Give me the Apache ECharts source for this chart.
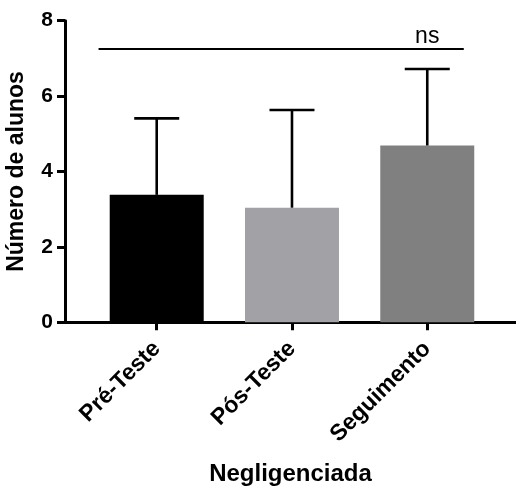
<!DOCTYPE html>
<html><head><meta charset="utf-8">
<script src="https://cdn.jsdelivr.net/npm/echarts@6/dist/echarts.min.js"></script>
<style>html,body{margin:0;padding:0;background:#fff}#c{width:516px;height:487px}</style>
</head><body><div id="c"></div>
<script>
const categories = ['Pré-Teste', 'Pós-Teste', 'Seguimento'];
const means = [3.38, 3.04, 4.69];
const errors = [2.03, 2.59, 2.03];
const barColors = ['#000000', '#a2a1a5', '#808080'];
const yTicks = [0, 2, 4, 6, 8];
const sigLine = { from: 0.57, to: 3.27, y: 7.25, labelAt: 3, text: 'ns' };

const FONT = 'Liberation Sans, Arial, Helvetica, sans-serif';
const positions = categories.map((c, i) => i + 1);

const chart = echarts.init(document.getElementById('c'), null, { renderer: 'canvas' });
chart.setOption({
  animation: false,
  backgroundColor: '#fff',
  grid: { left: 65, right: 0, top: 20.7, bottom: 164.7, containLabel: false, outerBoundsMode: 'none' },
  xAxis: {
    type: 'value', min: 0.322, max: 3.656,
    name: 'Negligenciada', nameLocation: 'middle', nameGap: 140,
    nameTextStyle: { fontFamily: FONT, fontWeight: 'bold', fontSize: 24, color: '#000' },
    axisLine: { show: true, onZero: false, lineStyle: { color: '#000', width: 3 } },
    axisTick: { show: true, customValues: positions, length: 8, lineStyle: { color: '#000', width: 3 } },
    axisLabel: {
      customValues: positions, rotate: 45, margin: 23,
      fontFamily: FONT, fontWeight: 'bold', fontSize: 23, color: '#000',
      formatter: v => categories[Math.round(v) - 1] || ''
    },
    splitLine: { show: false }
  },
  yAxis: {
    type: 'value', min: yTicks[0], max: yTicks[yTicks.length - 1], interval: 2,
    name: 'Número de alunos', nameLocation: 'middle', nameGap: 37, nameRotate: 90,
    nameTextStyle: { fontFamily: FONT, fontWeight: 'bold', fontSize: 23, color: '#000' },
    axisLine: { show: true, lineStyle: { color: '#000', width: 3 } },
    axisTick: { show: true, length: 8, lineStyle: { color: '#000', width: 3 } },
    axisLabel: { margin: 12, fontFamily: FONT, fontWeight: 'bold', fontSize: 21, color: '#000' },
    splitLine: { show: false }
  },
  series: [
    {
      type: 'bar', barWidth: 94,
      data: means.map((m, i) => ({ value: [positions[i], m], itemStyle: { color: barColors[i] } }))
    },
    {
      type: 'custom', z: 5,
      data: means.map((m, i) => [positions[i], m, errors[i]]),
      renderItem: (params, api) => {
        const x = api.value(0), m = api.value(1), e = api.value(2);
        const p0 = api.coord([x, m]);
        const p1 = api.coord([x, m + e]);
        const half = 22.5;
        return {
          type: 'group',
          children: [
            { type: 'line', shape: { x1: p0[0], y1: p0[1], x2: p1[0], y2: p1[1] }, style: { stroke: '#000', lineWidth: 2.6 } },
            { type: 'line', shape: { x1: p1[0] - half, y1: p1[1], x2: p1[0] + half, y2: p1[1] }, style: { stroke: '#000', lineWidth: 2.6 } }
          ]
        };
      }
    },
    {
      type: 'custom', z: 6,
      data: [[sigLine.from, sigLine.to, sigLine.y, sigLine.labelAt]],
      renderItem: (params, api) => {
        const a = api.coord([api.value(0), api.value(2)]);
        const b = api.coord([api.value(1), api.value(2)]);
        const t = api.coord([api.value(3), api.value(2)]);
        return {
          type: 'group',
          children: [
            { type: 'line', shape: { x1: a[0], y1: a[1], x2: b[0], y2: b[1] }, style: { stroke: '#000', lineWidth: 1.8 } },
            { type: 'text', x: t[0], y: a[1] - 1, style: { text: sigLine.text, fontFamily: FONT, fontSize: 23, fill: '#000', align: 'center', verticalAlign: 'bottom' } }
          ]
        };
      }
    }
  ]
});
</script></body></html>
